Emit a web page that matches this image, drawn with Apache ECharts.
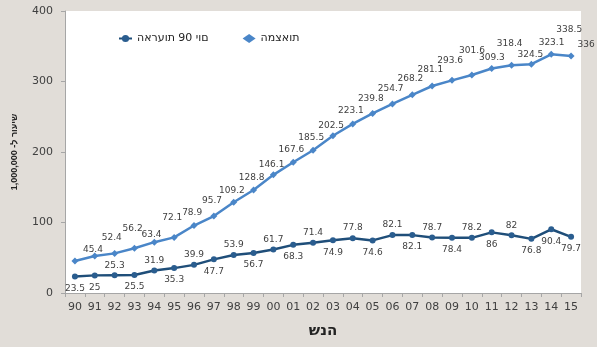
<!DOCTYPE html>
<html>
<head>
<meta charset="utf-8">
<script src="https://cdn.jsdelivr.net/npm/echarts@6/dist/echarts.min.js"></script>
<style>
html,body{margin:0;padding:0;background:#ffffff;}
#chart{width:597px;height:347px;}
</style>
</head>
<body>
<div id="chart"></div>
<script>
// ---- data ----
const years = ['90','91','92','93','94','95','96','97','98','99','00','01','02','03','04','05','06','07','08','09','10','11','12','13','14','15'];
// המצאות (prevalence)
const presence = [45.4,52.4,56.2,63.4,72.1,78.9,95.7,109.2,128.8,146.1,167.6,185.5,202.5,223.1,239.8,254.7,268.2,281.1,293.6,301.6,309.3,318.4,323.1,324.5,338.5,336];
// הארעות 90 יום (90-day incidence)
const incidence90 = [23.5,25,25.3,25.5,31.9,35.3,39.9,47.7,53.9,56.7,61.7,68.3,71.4,74.9,77.8,74.6,82.1,82.1,78.7,78.4,78.2,86,82,76.8,90.4,79.7];
const seriesNames = ['הארעות 90 יום', 'המצאות'];
const xAxisName = 'שנה';
const yAxisName = 'שיעור ל- 1,000,000';

// the reference shows legend and x-axis title glyphs in left-to-right order
const LRO = '\u202D', PDF = '\u202C';
function ltr(s){ return LRO + s + PDF; }

// ---- styling helpers (label placement only) ----
const lightNudge = {0:[18,-11],1:[17,-18],3:[17,-14],19:[20,-30],20:[20,-17],22:[40,-23],23:[-1,-10],25:[15,-11]};
function lightOffset(i){ return lightNudge[i] || [18,-25]; }
const darkBelow = new Set([0,1,3,5,7,9,11,13,15,17,19,21,23,24,25]);
function darkOffset(i){ return darkBelow.has(i) ? [0,12] : [0,-10]; }

const txt = '#404040';
const chart = echarts.init(document.getElementById('chart'));
chart.setOption({
  backgroundColor: '#e1ddd8',
  animation: false,
  textStyle: {fontFamily: 'DejaVu Sans'},
  grid: {left: 65, right: 16, top: 11, bottom: 54, show: true, backgroundColor: '#ffffff', borderWidth: 0},
  legend: {
    left: 113, top: 28, itemGap: 34, itemWidth: 13, itemHeight: 9,
    textStyle: {fontFamily: 'DejaVu Sans', fontSize: 11, color: '#222'},
    formatter: function (name) { return ltr(name); },
    data: [{name: seriesNames[0]}, {name: seriesNames[1], icon: 'diamond'}]
  },
  xAxis: {
    type: 'category', data: years, boundaryGap: true,
    name: ltr(xAxisName), nameLocation: 'middle', nameGap: 31,
    nameTextStyle: {fontFamily: 'DejaVu Sans', fontWeight: 'bold', fontSize: 15, color: '#222'},
    axisLine: {lineStyle: {color: '#a6a6a6', width: 1}},
    axisTick: {show: true, length: 4, lineStyle: {color: '#a6a6a6'}},
    axisLabel: {fontSize: 11, color: txt, margin: 9, interval: 0}
  },
  yAxis: {
    type: 'value', min: 0, max: 400, interval: 100,
    name: yAxisName, nameLocation: 'middle', nameGap: 46, nameRotate: 90,
    nameTextStyle: {fontFamily: 'Liberation Sans', fontWeight: 'bold', fontSize: 9, color: '#222'},
    axisLine: {show: true, lineStyle: {color: '#a6a6a6', width: 1}},
    axisTick: {show: true, length: 4, lineStyle: {color: '#a6a6a6'}},
    splitLine: {show: false},
    axisLabel: {fontSize: 11, color: txt, margin: 12}
  },
  series: [
    {
      name: seriesNames[0], type: 'line', color: '#1f4e79',
      symbol: 'circle', symbolSize: 6,
      lineStyle: {width: 2.5, color: '#1f4e79'},
      itemStyle: {color: '#2a5d8f'},
      data: incidence90.map((v, i) => ({value: v, label: {offset: darkOffset(i)}})),
      label: {show: true, position: 'inside', fontSize: 9, color: txt, fontFamily: 'DejaVu Sans'},
      z: 3
    },
    {
      name: seriesNames[1], type: 'line', color: '#4a86c8',
      symbol: 'diamond', symbolSize: 7,
      lineStyle: {width: 2.5, color: '#4a86c8'},
      itemStyle: {color: '#4a86c8'},
      data: presence.map((v, i) => ({value: v, label: {offset: lightOffset(i)}})),
      label: {show: true, position: 'inside', fontSize: 9, color: txt, fontFamily: 'DejaVu Sans'},
      z: 2
    }
  ]
});
</script>
</body>
</html>
